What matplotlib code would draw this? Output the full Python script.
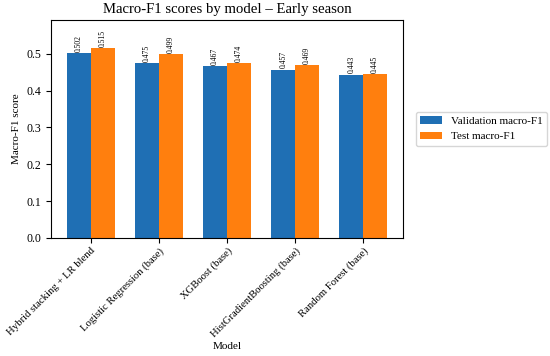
import numpy as np
import matplotlib
matplotlib.use("Agg")
import matplotlib.pyplot as plt

plt.rcParams['font.family'] = ['Liberation Serif', 'DejaVu Serif']

models = ["Hybrid stacking + LR blend", "Logistic Regression (base)", "XGBoost (base)",
          "HistGradientBoosting (base)", "Random Forest (base)"]
val_f1 = [0.502, 0.475, 0.467, 0.457, 0.443]
test_f1 = [0.515, 0.499, 0.474, 0.469, 0.445]

x = np.arange(len(models))
w = 0.35

fig, ax = plt.subplots(figsize=(5.5, 3.56), dpi=100)
b1 = ax.bar(x - w / 2, val_f1, w, color='#1f6fb4', label='Validation macro-F1')
b2 = ax.bar(x + w / 2, test_f1, w, color='#ff7f0e', label='Test macro-F1')

# value labels above bars
for bars in (b1, b2):
    for rect in bars:
        h = rect.get_height()
        ax.text(rect.get_x() + rect.get_width() / 2, h + 0.004, f"{h:.3f}",
                ha='center', va='bottom', rotation=90, fontsize=5.5)

ax.set_ylim(0, max(test_f1) * 1.15)
ax.set_xticks(x)
ax.set_xticklabels(models, rotation=45, ha='right', rotation_mode='anchor', fontsize=7.7)
ax.tick_params(axis='x', pad=2.5)
ax.tick_params(axis='y', labelsize=8.5)
ax.set_ylabel('Macro-F1 score', fontsize=8)
ax.set_xlabel('Model', fontsize=8, labelpad=2)
ax.set_title('Macro-F1 scores by model – Early season', fontsize=10.6, pad=5)
ax.legend(loc='center left', bbox_to_anchor=(1.02, 0.5), fontsize=8)

fig.subplots_adjust(left=0.093, right=0.733, top=0.944, bottom=0.332)
fig.savefig('out.png', dpi=100)
